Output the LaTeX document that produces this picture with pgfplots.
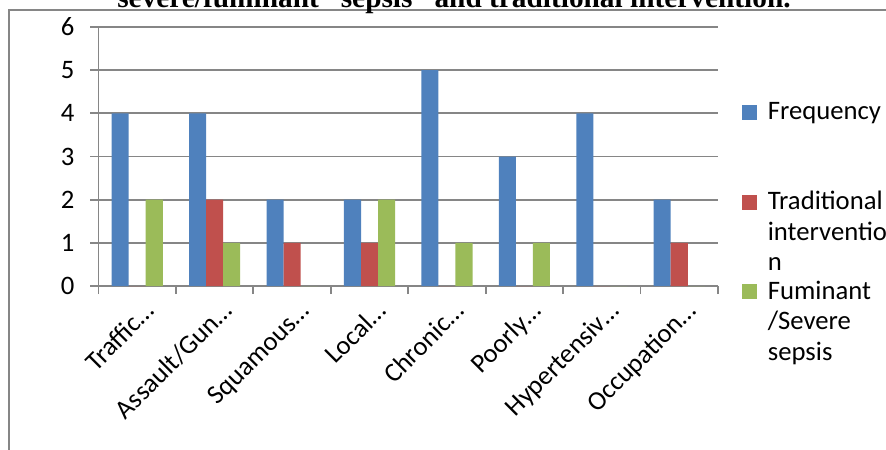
\documentclass[border=0pt]{standalone}
\usepackage{pgfplots}
\pgfplotsset{compat=1.18}
\usepackage{fontspec}
\setmainfont{Carlito}
\newfontfamily\titlefont{Liberation Serif}
\definecolor{xlblue}{HTML}{4F81BD}
\definecolor{xlred}{HTML}{C0504D}
\definecolor{xlgreen}{HTML}{9BBB59}
\definecolor{xlgrid}{HTML}{868686}
\newcommand\chartfont{\fontsize{20}{22.9}\selectfont}
\newcommand\lines[1]{\begin{tabular}[t]{@{}l@{}}#1\end{tabular}}

\begin{document}
\begin{tikzpicture}[x=0.75pt,y=0.75pt]
% the axis box has its lower left corner at the origin
\path[use as bounding box] (-98.5,-164) rectangle (787.5,286);
\clip (-98.5,-164) rectangle (787.5,286);
% frame of the chart area
\draw[xlgrid, line width=1.4pt] (-89.5,-200) -- (-89.5,276) -- (900,276);
% heading line above the chart
\node[font=\titlefont\bfseries\fontsize{22}{26}\selectfont, anchor=base, inner sep=0pt]
  at (355.5,278) {severe/fuminant “sepsis” and traditional intervention.};
\begin{axis}[
  scale only axis, width=464.6pt, height=194.25pt,
  ybar=0pt, bar width=0.22,
  xmin=-0.5, xmax=7.5, ymin=0, ymax=6,
  xtick={-0.5,0.5,...,7.5}, xticklabels={},
  extra x ticks={0,1,2,3,4,5,6,7},
  extra x tick labels={Traffic…,Assault/Gun…,Squamous…,Local…,Chronic…,Poorly…,Hypertensiv…,Occupation…},
  extra x tick style={major tick length=0pt, grid=none,
    xticklabel style={font=\chartfont, inner sep=0pt, anchor=base east,
      xshift=14pt, yshift=-20pt, rotate=45}},
  ytick={0,...,6},
  ymajorgrids, grid style={xlgrid, line width=1.4pt},
  axis lines=left, axis line style={xlgrid, line width=1.4pt, -},
  tick align=outside, major tick length=6pt,
  tick style={xlgrid, line width=1.4pt},
  yticklabel style={font=\chartfont, anchor=east, xshift=-8.6pt},
  /pgf/number format/assume math mode=true,
  legend style={at={(axis description cs:1.0387,0.7351)}, anchor=north west,
    draw=none, fill=none, inner sep=0pt, row sep=45.8pt, column sep=6pt,
    font=\chartfont, cells={anchor=base west, inner sep=0pt}},
  legend image code/.code={\fill[#1] (0pt,0pt) rectangle (11.25pt,11.25pt);},
]
\addplot[fill=xlblue, draw=none] coordinates {(0,4) (1,4) (2,2) (3,2) (4,5) (5,3) (6,4) (7,2)};
\addlegendentry{\lines{Frequency}}
\addplot[fill=xlred, draw=none] coordinates {(0,0) (1,2) (2,1) (3,1) (4,0) (5,0) (6,0) (7,1)};
\addlegendentry{\lines{Traditional\\interventio\\n}}
\addplot[fill=xlgreen, draw=none] coordinates {(0,2) (1,1) (2,0) (3,2) (4,1) (5,1) (6,0) (7,0)};
\addlegendentry{\lines{Fuminant\\/Severe\\sepsis}}
\end{axis}
\end{tikzpicture}
\end{document}
